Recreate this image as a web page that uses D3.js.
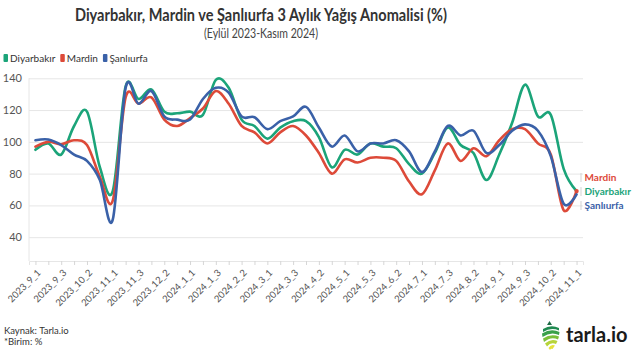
<!DOCTYPE html>
<html><head><meta charset="utf-8">
<script src="https://cdn.jsdelivr.net/npm/d3@7"></script>
<style>
html,body{margin:0;padding:0;background:#fff;}
svg{display:block;font-family:Lato,"Noto Sans",sans-serif;}
</style></head>
<body><svg id="c" width="641" height="355"></svg>
<script>
const categories = ["2023_9_1","2023_9_2","2023_9_3","2023_10_1","2023_10_2","2023_10_3","2023_11_1","2023_11_2","2023_11_3","2023_12_1","2023_12_2","2023_12_3","2024_1_1","2024_1_2","2024_1_3","2024_2_1","2024_2_2","2024_2_3","2024_3_1","2024_3_2","2024_3_3","2024_4_1","2024_4_2","2024_4_3","2024_5_1","2024_5_2","2024_5_3","2024_6_1","2024_6_2","2024_6_3","2024_7_1","2024_7_2","2024_7_3","2024_8_1","2024_8_2","2024_8_3","2024_9_1","2024_9_2","2024_9_3","2024_10_1","2024_10_2","2024_10_3","2024_11_1"];
const tickLabels = ["2023_9_1","2023_9_3","2023_10_2","2023_11_1","2023_11_3","2023_12_2","2024_1_1","2024_1_3","2024_2_2","2024_3_1","2024_3_3","2024_4_2","2024_5_1","2024_5_3","2024_6_2","2024_7_1","2024_7_3","2024_8_2","2024_9_1","2024_9_3","2024_10_2","2024_11_1"];
const yTicks = [40,60,80,100,120,140];
const diyarbakir = [95,99,92,110,119,84,69,135,127,133,119,118,119,117,139,134,114,110,102,109,113,113,103,84,95,92,99,97,96,86,80,93,109,98,93,76,92,112,136,116,117,83,69];
const mardin = [97,100,98.5,101,98,78,63,128,124,128,114,110,115,121,132,124,110,106,99,106,110,104,93,80,89,87,90,90,88,75,67,82,99,88,96,91,101,108,108,99,92,57,69];
const sanliurfa = [101,101.5,98,92,88,76,51,134,124,132,116,114,114,127,134,131,116,115.5,108,113,116,122,109,97,104,94,99,99,101,94,81,94,110,104,107,93,98,107,111,107,91,61,67];
const seriesNames = ["Diyarbakır","Mardin","Şanlıurfa"];
const seriesColors = ["#1ba479","#dd4a39","#3a61a8"];

const seriesValues = [diyarbakir, mardin, sanliurfa];
const svg = d3.select("#c");
const L = 29, R = 583, T = 78.3, B = 261;

const x = d3.scalePoint().domain(categories).range([L, R]).padding(0.5);
const y = d3.scaleLinear().domain([25, 140]).range([B, T]);

// title
svg.append("text").attr("x", 261).attr("y", 20.5).attr("text-anchor","middle")
  .attr("font-weight","bold").attr("font-size",16.5).attr("fill","#333")
  .attr("textLength",372).attr("lengthAdjust","spacingAndGlyphs")
  .text("Diyarbakır, Mardin ve Şanlıurfa 3 Aylık Yağış Anomalisi (%)");
svg.append("text").attr("x", 261).attr("y", 37.5).attr("text-anchor","middle")
  .attr("font-size",12.5).attr("fill","#444")
  .attr("textLength",114).attr("lengthAdjust","spacingAndGlyphs")
  .text("(Eylül 2023-Kasım 2024)");

// legend
let lx = 3.5;
seriesNames.forEach((n,i)=>{
  svg.append("rect").attr("x",lx).attr("y",54).attr("width",4.5).attr("height",8).attr("rx",1).attr("fill",seriesColors[i]);
  const t = svg.append("text").attr("x",lx+6.5).attr("y",61.5).attr("font-size",10).attr("fill","#333").text(n);
  lx += 6.5 + t.node().getComputedTextLength() + 5;
});

// y axis + grid
const ya = svg.append("g").attr("transform",`translate(${L},0)`)
  .call(d3.axisLeft(y).tickValues(yTicks).tickSize(-(R-L)).tickPadding(7));
ya.select(".domain").remove();
ya.selectAll(".tick line").attr("stroke","#e6e6e6");
ya.selectAll(".tick text").attr("font-size",11).attr("fill","#555").attr("font-family","Lato,'Noto Sans',sans-serif");
svg.append("line").attr("x1",L).attr("x2",L).attr("y1",T).attr("y2",B).attr("stroke","#e6e6e6");

// x axis
const xa = svg.append("g").attr("transform",`translate(0,${B})`)
  .call(d3.axisBottom(x).tickSize(4).tickFormat(d => tickLabels.includes(d) ? d : ""));
xa.select(".domain").attr("stroke","#e6e6e6");
xa.selectAll(".tick line").attr("stroke","#d6d6d6");
xa.selectAll(".tick text").attr("font-size",9.5).attr("fill","#555")
  .attr("font-family","Lato,'Noto Sans',sans-serif")
  .attr("text-anchor","end").attr("y",0).attr("dy","0.35em")
  .attr("transform","translate(3,10) rotate(-45)");

// lines
const line = d3.line().x((d,i)=>x(categories[i])).y(d=>y(d)).curve(d3.curveCardinal);
seriesValues.forEach((vals,i)=>{
  svg.append("path").datum(vals).attr("d",line).attr("fill","none")
    .attr("stroke",seriesColors[i]).attr("stroke-width",2.6).attr("stroke-linejoin","round").attr("stroke-linecap","round");
});
const last = categories.length - 1;
svg.append("circle").attr("cx", x(categories[last])).attr("cy", y(mardin[last])).attr("r",2.2).attr("fill",seriesColors[1]);

// end labels
const endLabels = [{i:1,y:181},{i:0,y:195},{i:2,y:209}];
endLabels.forEach(e=>{
  svg.append("line").attr("x1",581).attr("x2",581).attr("y1",e.y-8).attr("y2",e.y+1).attr("stroke","#c8c8c8").attr("stroke-width",0.8);
  svg.append("text").attr("x",584.5).attr("y",e.y).attr("font-size",10).attr("font-weight","bold")
    .attr("fill",seriesColors[e.i]).text(seriesNames[e.i]);
});

// footer
svg.append("text").attr("x",4).attr("y",334).attr("font-size",9.5).attr("fill","#333").text("Kaynak: Tarla.io");
svg.append("text").attr("x",4).attr("y",345).attr("font-size",9.5).attr("fill","#333").text("*Birim: %");

// logo
const lg = svg.append("g").attr("transform","translate(541,321)");
lg.append("path").attr("d","M8.5,0 L11,4 L6,4 Z").attr("fill","#1d6b45");
const bands = [
  ["M2,8 Q10,3 18,7 L18,9.5 Q10,6 2,11 Z","#1f8a50"],
  ["M1,12.5 Q10,7 18.5,11 L18,14 Q10,10 1.5,16 Z","#3aa04a"],
  ["M2,17.5 Q10,12 18,15.5 L17,18.5 Q10,15 3,21 Z","#7bbf3a"],
  ["M4,22.5 Q10,17 16.5,20 L15,23 Q10,20.5 6,25.5 Z","#b6d43a"],
  ["M7.5,27 Q10,23 14,24.5 L11.5,28 Q10,27 9,29 Z","#e6e23a"]
];
bands.forEach(b=> lg.append("path").attr("d",b[0]).attr("fill",b[1]));
svg.append("text").attr("x",566).attr("y",342).attr("font-size",20).attr("font-weight","bold")
  .attr("fill","#1a1a1a").text("tarla.io");
</script></body></html>
